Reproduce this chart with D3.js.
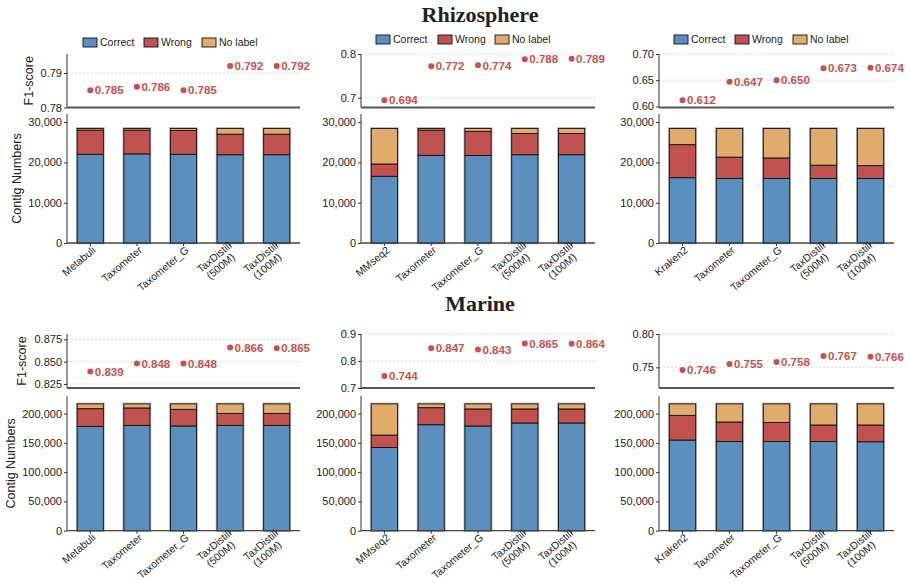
<!DOCTYPE html>
<html>
<head>
<meta charset="utf-8">
<script src="https://cdn.jsdelivr.net/npm/d3@7"></script>
<style>
  body { margin: 0; background: #fff; }
  svg { display: block; font-family: "Liberation Sans", Arial, sans-serif; }
</style>
</head>
<body>
<svg id="chart"></svg>
<script>
// ---- data ----
const catsMetabuli = ["Metabuli", "Taxometer", "Taxometer_G", "TaxDistill\n(500M)", "TaxDistill\n(100M)"];
const catsMMseq = ["MMseq2", "Taxometer", "Taxometer_G", "TaxDistill\n(500M)", "TaxDistill\n(100M)"];
const catsKraken = ["Kraken2", "Taxometer", "Taxometer_G", "TaxDistill\n(500M)", "TaxDistill\n(100M)"];

const rhizoCorrect = [[22000, 22100, 22000, 21900, 21900], [16550, 21750, 21700, 21900, 21900], [16200, 16000, 16000, 16000, 16000]];
const rhizoWrong = [[6000, 5900, 5900, 5100, 5100], [3050, 6250, 6000, 5250, 5250], [8200, 5300, 5100, 3300, 3200]];
const rhizoNoLabel = [[400, 400, 500, 1400, 1400], [8800, 400, 700, 1250, 1250], [4000, 7100, 7300, 9100, 9200]];
const rhizoF1 = [[0.785, 0.786, 0.785, 0.792, 0.792], [0.694, 0.772, 0.774, 0.788, 0.789], [0.612, 0.647, 0.650, 0.673, 0.674]];

const marineCorrect = [[178100, 179800, 178800, 179800, 179800], [142100, 181000, 178800, 183900, 183900], [154800, 152400, 152400, 152400, 151900]];
const marineWrong = [[30300, 29800, 28400, 20500, 20500], [21200, 29100, 29100, 24000, 24000], [42100, 33200, 32500, 28100, 28600]];
const marineNoLabel = [[8100, 6900, 9300, 16200, 16200], [53200, 6400, 8600, 8600, 8600], [19600, 30900, 31600, 36000, 36000]];
const marineF1 = [[0.839, 0.848, 0.848, 0.866, 0.865], [0.744, 0.847, 0.843, 0.865, 0.864], [0.746, 0.755, 0.758, 0.767, 0.766]];

const f1Ticks = [[0.78, 0.79], [0.7, 0.8], [0.6, 0.65, 0.7], [0.825, 0.85, 0.875], [0.7, 0.8, 0.9], [0.75, 0.8]];
const f1Domains = [[0.78, 0.7955], [0.6776, 0.8], [0.598, 0.70], [0.8205, 0.881], [0.7, 0.9], [0.719, 0.80]];
const f1Formats = [".2f", ".1f", ".2f", ".3f", ".1f", ".2f"];
const rhizoCountTicks = [0, 10000, 20000, 30000];
const marineCountTicks = [0, 50000, 100000, 150000, 200000];

const seriesNames = ["Correct", "Wrong", "No label"];
const colors = { "Correct": "#5b8fbe", "Wrong": "#c1524f", "No label": "#e1ab6c" };
const titles = ["Rhizosphere", "Marine"];

// ---- layout ----
const width = 910, height = 583;
const colX = [[67, 300], [361, 595], [659, 894]];
const rowLayout = [
  { title: 22, f1: [107.5, 54], bars: [243, 114], countMax: 32000, counts: rhizoCountTicks },
  { title: 311, f1: [388, 334], bars: [530.7, 396], countMax: 230000, counts: marineCountTicks }
];

const svg = d3.select("#chart").attr("width", width).attr("height", height);

const catsByCol = [catsMetabuli, catsMMseq, catsKraken];
const rows = [
  { correct: rhizoCorrect, wrong: rhizoWrong, nolabel: rhizoNoLabel, f1: rhizoF1 },
  { correct: marineCorrect, wrong: marineWrong, nolabel: marineNoLabel, f1: marineF1 }
];

// titles
titles.forEach((t, r) => {
  svg.append("text")
    .attr("x", 480).attr("y", rowLayout[r].title)
    .attr("text-anchor", "middle")
    .style("font-family", "'Liberation Serif', 'Times New Roman', serif")
    .style("font-weight", "bold").style("font-size", "22px").style("fill", "#222")
    .text(t);
});

function styleAxis(g) {
  g.selectAll(".domain").remove();
  g.selectAll(".tick line").attr("stroke", "#333");
  g.selectAll(".tick text").style("font-size", "11px").style("fill", "#222")
    .style("font-family", "'Liberation Sans', Arial, sans-serif");
}

rows.forEach((rowData, r) => {
  const lay = rowLayout[r];
  for (let c = 0; c < 3; c++) {
    const idx = r * 3 + c;
    const cats = catsByCol[c];
    const [x0, x1] = colX[c];

    const x = d3.scaleBand().domain(cats).range([x0, x1]).paddingInner(0.44).paddingOuter(0.22);

    // ---- F1 panel ----
    const yF = d3.scaleLinear().domain(f1Domains[idx]).range(lay.f1);
    const grid = svg.append("g");
    f1Ticks[idx].forEach(t => {
      if (Math.abs(yF(t) - lay.f1[0]) < 1.5) return;
      grid.append("line")
        .attr("x1", x0).attr("x2", x1).attr("y1", yF(t)).attr("y2", yF(t))
        .attr("stroke", "#c8c8c8").attr("stroke-width", 0.7).attr("stroke-dasharray", "2,2");
    });
    const gyF = svg.append("g").attr("transform", `translate(${x0},0)`)
      .call(d3.axisLeft(yF).tickValues(f1Ticks[idx]).tickFormat(d3.format(f1Formats[idx])).tickSize(3).tickPadding(2));
    styleAxis(gyF);
    svg.append("line").attr("x1", x0).attr("x2", x0).attr("y1", lay.f1[0]).attr("y2", lay.f1[1])
      .attr("stroke", "#333").attr("stroke-width", 1);
    svg.append("line").attr("x1", x0).attr("x2", x1).attr("y1", lay.f1[0]).attr("y2", lay.f1[0])
      .attr("stroke", "#555").attr("stroke-width", 1.8);

    const f1Vals = rowData.f1[c];
    svg.append("g").selectAll("circle").data(cats).join("circle")
      .attr("cx", d => x(d) + x.bandwidth() / 2)
      .attr("cy", (d, i) => yF(f1Vals[i]))
      .attr("r", 3).attr("fill", "#c9504d");
    svg.append("g").selectAll("text").data(cats).join("text")
      .attr("x", d => x(d) + x.bandwidth() / 2 + 4.5)
      .attr("y", (d, i) => yF(f1Vals[i]))
      .attr("dy", "0.36em")
      .style("font-size", "11.5px").style("font-weight", "bold").style("fill", "#c9504d")
      .text((d, i) => d3.format(".3f")(f1Vals[i]));

    // ---- stacked bars ----
    const yB = d3.scaleLinear().domain([0, lay.countMax]).range(lay.bars);
    const table = cats.map((cat, i) => ({
      cat: cat,
      "Correct": rowData.correct[c][i],
      "Wrong": rowData.wrong[c][i],
      "No label": rowData.nolabel[c][i]
    }));
    const stacked = d3.stack().keys(seriesNames)(table);

    // soft grey halo around each bar
    svg.append("g").selectAll("rect").data(table).join("rect")
      .attr("x", d => x(d.cat)).attr("width", x.bandwidth())
      .attr("y", d => yB(d["Correct"] + d["Wrong"] + d["No label"]))
      .attr("height", d => yB(0) - yB(d["Correct"] + d["Wrong"] + d["No label"]))
      .attr("fill", "none").attr("stroke", "#000").attr("stroke-opacity", 0.3).attr("stroke-width", 2.6);

    svg.append("g").selectAll("g").data(stacked).join("g")
      .attr("fill", s => colors[s.key])
      .selectAll("rect").data(s => s).join("rect")
      .attr("x", d => x(d.data.cat)).attr("width", x.bandwidth())
      .attr("y", d => yB(d[1])).attr("height", d => yB(d[0]) - yB(d[1]))
      .attr("stroke", "#111").attr("stroke-width", 0.9);

    const gyB = svg.append("g").attr("transform", `translate(${x0},0)`)
      .call(d3.axisLeft(yB).tickValues(lay.counts).tickFormat(d3.format(",")).tickSize(3).tickPadding(2));
    styleAxis(gyB);
    svg.append("line").attr("x1", x0).attr("x2", x0).attr("y1", lay.bars[0]).attr("y2", lay.bars[1])
      .attr("stroke", "#333").attr("stroke-width", 1);

    const gxB = svg.append("g").attr("transform", `translate(0,${lay.bars[0]})`)
      .call(d3.axisBottom(x).tickSize(3).tickFormat(""));
    gxB.select(".domain").remove();
    gxB.selectAll(".tick line").attr("stroke", "#333");
    svg.append("line").attr("x1", x0).attr("x2", x1).attr("y1", lay.bars[0]).attr("y2", lay.bars[0])
      .attr("stroke", "#444").attr("stroke-width", 1.3);

    // rotated category labels
    cats.forEach(cat => {
      const lines = cat.split("\n");
      const t = svg.append("text")
        .attr("transform", `translate(${x(cat) + x.bandwidth() / 2 + 3},${lay.bars[0] + 4.5}) rotate(-40)`)
        .attr("text-anchor", "end")
        .style("font-size", "10.5px").style("fill", "#222");
      if (lines.length === 1) {
        t.append("tspan").attr("x", 0).attr("dy", "0.45em").text(lines[0]);
      } else {
        t.append("tspan").attr("x", 0).attr("dy", "-0.1em").text(lines[0]);
        t.append("tspan").attr("x", -5).attr("dy", "1.05em").text(lines[1]);
      }
    });

    // axis titles for the left column
    if (c === 0) {
      const lx = r === 0 ? [33, 21] : [26, 15];
      svg.append("text")
        .attr("transform", `translate(${lx[0]},${(lay.f1[0] + lay.f1[1]) / 2}) rotate(-90)`)
        .attr("text-anchor", "middle").style("font-size", "12.5px").style("fill", "#222")
        .text("F1-score");
      svg.append("text")
        .attr("transform", `translate(${lx[1]},${(lay.bars[0] + lay.bars[1]) / 2}) rotate(-90)`)
        .attr("text-anchor", "middle").style("font-size", "12.5px").style("fill", "#222")
        .text("Contig Numbers");
    }

    // legend on the top row
    if (r === 0) {
      const legendX = [[83, 144, 202], [376, 438, 495], [674, 735, 793]][c];
      const lg = svg.append("g");
      seriesNames.forEach((name, i) => {
        lg.append("rect").attr("x", legendX[i]).attr("y", c === 0 ? 38 : 35)
          .attr("width", 14).attr("height", 9)
          .attr("fill", colors[name]).attr("stroke", "#111").attr("stroke-width", 0.9);
        lg.append("text").attr("x", legendX[i] + 17).attr("y", (c === 0 ? 38 : 35) + 4.5)
          .attr("dy", "0.35em").style("font-size", "10.5px").style("fill", "#222").text(name);
      });
    }
  }
});
</script>
</body>
</html>
